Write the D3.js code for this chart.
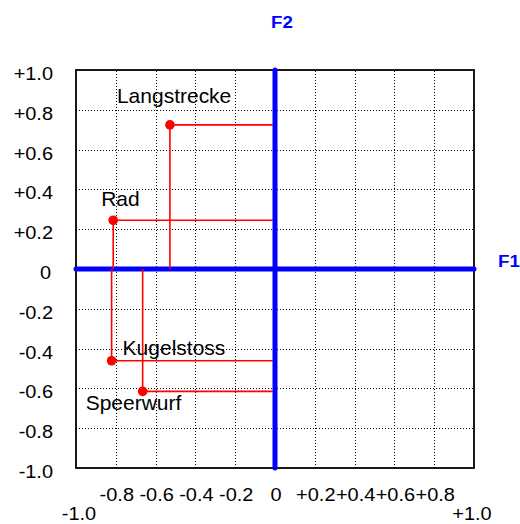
<!DOCTYPE html>
<html>
<head>
<meta charset="utf-8">
<script src="https://cdn.jsdelivr.net/npm/d3@7"></script>
<style>
html,body{margin:0;padding:0;background:#fff;}
svg{display:block;}
text{font-family:"Liberation Sans",Arial,sans-serif;}
</style>
</head>
<body>
<svg id="chart" width="520" height="524"></svg>
<script>
// ---- data ----
const names = ["Langstrecke", "Rad", "Kugelstoss", "Speerwurf"];
const f1 = [-0.528, -0.813, -0.821, -0.665];
const f2 = [0.724, 0.245, -0.461, -0.615];
const tickValues = [-1.0, -0.8, -0.6, -0.4, -0.2, 0, 0.2, 0.4, 0.6, 0.8, 1.0];
const tickLabels = ["-1.0", "-0.8", "-0.6", "-0.4", "-0.2", "0", "+0.2", "+0.4", "+0.6", "+0.8", "+1.0"];
const axisTitles = ["F1", "F2"];

// label placement (pixel offsets from point)
const labelOffsets = [[-53, -22], [-12, -14], [11, -6], [-57, 19]];

const svg = d3.select("#chart");
const L = 76, R = 474, T = 70, B = 468;
const x = d3.scaleLinear().domain([-1, 1]).range([L, R]);
const y = d3.scaleLinear().domain([-1, 1]).range([B, T]);

function stext(parent, px, py, str, anchor, size, sx, opts) {
  const g = parent.append("g").attr("transform", `translate(${px},${py}) scale(${sx},1)`);
  const t = g.append("text").attr("x", 0).attr("y", 0)
    .attr("text-anchor", anchor).attr("font-size", size).text(str);
  if (opts) {
    if (opts.fill) t.attr("fill", opts.fill);
    if (opts.weight) t.attr("font-weight", opts.weight);
  }
  return t;
}

// grid (dotted) via axes
const inner = tickValues.filter(v => Math.abs(v) < 1 && v !== 0);
const gx = svg.append("g").attr("transform", `translate(0,${B})`)
  .call(d3.axisBottom(x).tickValues(inner).tickSize(-(B - T)).tickFormat(""));
const gy = svg.append("g").attr("transform", `translate(${L},0)`)
  .call(d3.axisLeft(y).tickValues(inner).tickSize(-(R - L)).tickFormat(""));
[gx, gy].forEach(g => {
  g.select(".domain").remove();
  g.selectAll(".tick line").attr("stroke", "#000").attr("stroke-width", 1)
    .attr("stroke-dasharray", "1,2").attr("shape-rendering", "crispEdges");
});

// frame
svg.append("rect").attr("x", L).attr("y", T).attr("width", R - L).attr("height", B - T)
  .attr("fill", "none").attr("stroke", "#000").attr("stroke-width", 1.8);

// blue principal axes
svg.append("line").attr("x1", x(-1)).attr("x2", x(1)).attr("y1", y(0)).attr("y2", y(0))
  .attr("stroke", "#0000ff").attr("stroke-width", 5).attr("stroke-linecap", "round");
svg.append("line").attr("x1", x(0)).attr("x2", x(0)).attr("y1", y(-1)).attr("y2", y(1))
  .attr("stroke", "#0000ff").attr("stroke-width", 5).attr("stroke-linecap", "round");

// drop lines and points
const pts = names.map((n, i) => ({ name: n, a: f1[i], b: f2[i], off: labelOffsets[i] }));
const red = "#ff0000";
svg.selectAll("line.h").data(pts).join("line").attr("class", "h")
  .attr("x1", d => x(d.a)).attr("x2", x(0) - 2).attr("y1", d => y(d.b)).attr("y2", d => y(d.b))
  .attr("stroke", red).attr("stroke-width", 1.6);
svg.selectAll("line.v").data(pts).join("line").attr("class", "v")
  .attr("x1", d => x(d.a)).attr("x2", d => x(d.a)).attr("y1", d => y(d.b)).attr("y2", y(0))
  .attr("stroke", red).attr("stroke-width", 1.6);
svg.selectAll("circle.p").data(pts).join("circle").attr("class", "p")
  .attr("cx", d => x(d.a)).attr("cy", d => y(d.b)).attr("r", 4.8).attr("fill", red);

// point labels
pts.forEach(d => {
  stext(svg, x(d.a) + d.off[0], y(d.b) + d.off[1], d.name, "start", 20, 1.05);
});

// y tick labels
tickValues.forEach((v, i) => {
  stext(svg, v === 0 ? 51 : 53, y(v) + 10, tickLabels[i], "end", 19, 1.05);
});
// x tick labels
tickValues.forEach((v, i) => {
  const edge = Math.abs(v) === 1;
  stext(svg, x(v) + (v === -1 ? 3 : v === 1 ? -2 : 1), edge ? 520 : 501, tickLabels[i], "middle", 19, 1.05);
});

// axis titles
stext(svg, 498, 267, axisTitles[0], "start", 17, 1.1, { fill: "#0000ff", weight: "bold" });
stext(svg, 282, 28, axisTitles[1], "middle", 17, 1.1, { fill: "#0000ff", weight: "bold" });
</script>
</body>
</html>
